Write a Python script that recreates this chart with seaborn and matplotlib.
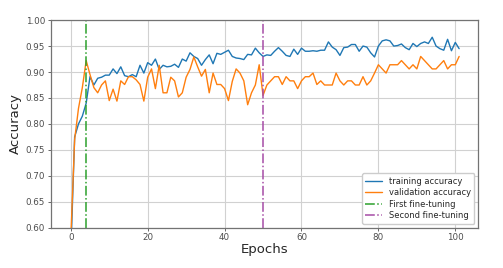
import numpy as np
import pandas as pd
import matplotlib
matplotlib.use('Agg')
import matplotlib.pyplot as plt
import seaborn as sns

# accuracy per epoch
train_acc = [0.55, 0.775, 0.80, 0.815, 0.84, 0.891, 0.875, 0.888, 0.89, 0.894,
             0.894, 0.906, 0.897, 0.91, 0.893, 0.891, 0.895, 0.891, 0.913, 0.898,
             0.918, 0.913, 0.925, 0.905, 0.913, 0.91, 0.911, 0.915, 0.909, 0.925,
             0.921, 0.937, 0.93, 0.926, 0.913, 0.924, 0.933, 0.916, 0.936, 0.934,
             0.938, 0.942, 0.93, 0.927, 0.926, 0.924, 0.934, 0.933, 0.946, 0.937,
             0.93, 0.933, 0.932, 0.94, 0.947, 0.94, 0.932, 0.93, 0.944, 0.934,
             0.946, 0.94, 0.94, 0.941, 0.94, 0.942, 0.942, 0.958, 0.948, 0.943,
             0.932, 0.947, 0.948, 0.953, 0.953, 0.94, 0.95, 0.948, 0.937, 0.929,
             0.95, 0.96, 0.962, 0.96, 0.95, 0.951, 0.954, 0.947, 0.943, 0.955,
             0.949, 0.955, 0.958, 0.955, 0.967, 0.95, 0.945, 0.942, 0.963, 0.941,
             0.957, 0.945]
val_acc = [0.58, 0.77, 0.83, 0.87, 0.922, 0.895, 0.87, 0.86, 0.875, 0.883,
           0.845, 0.867, 0.844, 0.883, 0.876, 0.891, 0.891, 0.885, 0.876, 0.844,
           0.89, 0.906, 0.868, 0.913, 0.86, 0.86, 0.89, 0.883, 0.852, 0.86,
           0.89, 0.905, 0.929, 0.91, 0.892, 0.905, 0.86, 0.898, 0.876, 0.876,
           0.868, 0.845, 0.882, 0.906, 0.898, 0.883, 0.837, 0.86, 0.875, 0.914,
           0.855, 0.875, 0.883, 0.891, 0.891, 0.876, 0.891, 0.883, 0.883, 0.868,
           0.883, 0.891, 0.891, 0.898, 0.876, 0.883, 0.875, 0.875, 0.875, 0.898,
           0.883, 0.875, 0.883, 0.883, 0.875, 0.875, 0.891, 0.875, 0.883, 0.898,
           0.914, 0.906, 0.898, 0.914, 0.914, 0.914, 0.922, 0.914, 0.906, 0.914,
           0.906, 0.93, 0.922, 0.914, 0.906, 0.906, 0.914, 0.922, 0.906, 0.914,
           0.914, 0.93]
epochs = list(range(len(train_acc)))
first_ft = 4
second_ft = 50

df = pd.DataFrame({'epoch': epochs, 'train': train_acc, 'val': val_acc})

sns.set_style('whitegrid', {'axes.edgecolor': '0.45', 'grid.color': '0.82',
                            'xtick.bottom': True, 'ytick.left': True})
plt.rcParams['font.family'] = ['DejaVu Sans']

fig, ax = plt.subplots(figsize=(5.03, 2.68), dpi=100)
sns.lineplot(data=df, x='epoch', y='train', ax=ax, color='#1f77b4', lw=1.0, label='training accuracy')
sns.lineplot(data=df, x='epoch', y='val', ax=ax, color='#ff7f0e', lw=1.0, label='validation accuracy')
ax.axvline(first_ft, color='#2ca02c', ls='-.', lw=1.1, label='First fine-tuning')
ax.axvline(second_ft, color='#a64ca6', ls='-.', lw=1.1, label='Second fine-tuning')

ax.set_ylim(0.6, 1.0)
ax.set_xlim(-5.2, 106)
ax.set_xticks([0, 20, 40, 60, 80, 100])
ax.set_yticks(np.arange(0.6, 1.001, 0.05))
ax.yaxis.set_major_formatter(matplotlib.ticker.FormatStrFormatter('%.2f'))
ax.tick_params(labelsize=6.3, colors='0.3', length=2.5, width=0.6, pad=1.5)
for s in ax.spines.values():
    s.set_linewidth(0.9)
ax.set_xlabel('Epochs', fontsize=9.5, labelpad=0.5)
ax.set_ylabel('Accuracy', fontsize=9.5, labelpad=3)
ax.legend(loc='lower right', fontsize=6, frameon=True, framealpha=1,
          handlelength=2, borderpad=0.4, labelspacing=0.3)

fig.subplots_adjust(left=0.101, right=0.951, top=0.925, bottom=0.15)
fig.savefig('out.png', dpi=100)
